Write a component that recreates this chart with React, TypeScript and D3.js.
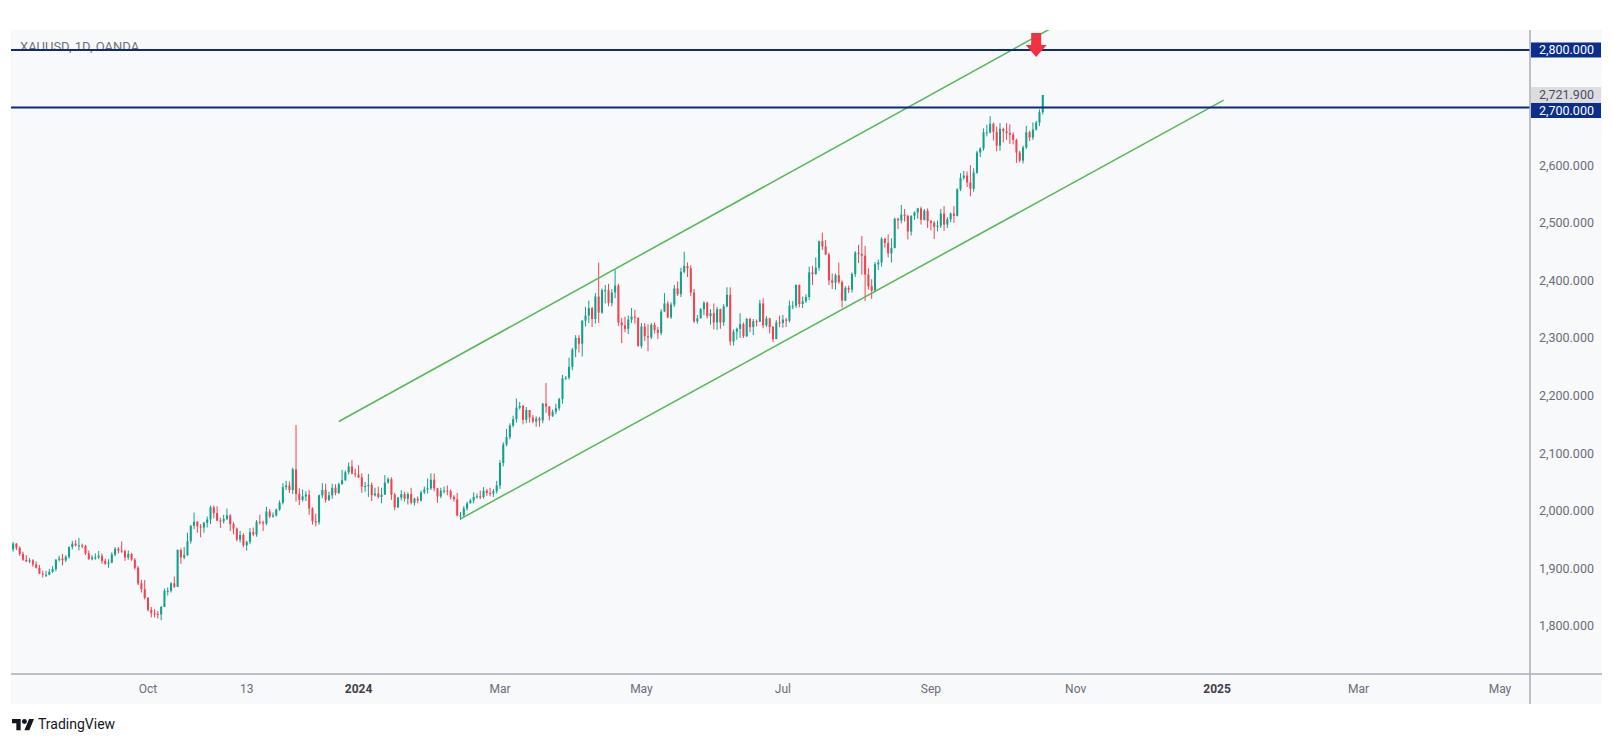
import React from "react";
import * as d3 from "d3";

type Bar = [number, number, number, number]; // open, high, low, close

// ---- XAUUSD daily OHLC (Aug 3 2023 -> Oct 18 2024) ----
const aug2023: Bar[] = [
  [1934, 1938, 1928, 1933], [1933, 1946, 1929, 1943], [1943, 1944, 1932, 1936], [1936, 1938, 1922, 1925],
  [1925, 1929, 1913, 1915], [1915, 1923, 1911, 1912], [1912, 1918, 1909, 1914], [1914, 1916, 1903, 1907],
  [1907, 1912, 1900, 1901], [1901, 1906, 1890, 1891], [1891, 1896, 1884, 1889], [1889, 1896, 1885, 1889],
  [1889, 1899, 1888, 1894], [1894, 1904, 1892, 1899], [1899, 1916, 1895, 1915], [1915, 1922, 1912, 1917],
  [1917, 1925, 1905, 1914], [1914, 1923, 1911, 1920], [1920, 1938, 1917, 1937], [1937, 1948, 1933, 1943],
  [1943, 1949, 1938, 1940],
];
const sep2023: Bar[] = [
  [1940, 1953, 1931, 1940], [1940, 1943, 1935, 1939], [1939, 1941, 1923, 1926], [1926, 1931, 1915, 1916],
  [1916, 1923, 1914, 1919], [1919, 1926, 1915, 1919], [1919, 1930, 1916, 1922], [1922, 1926, 1908, 1913],
  [1913, 1917, 1906, 1908], [1908, 1916, 1901, 1910], [1910, 1928, 1909, 1924], [1924, 1937, 1921, 1934],
  [1934, 1937, 1926, 1931], [1931, 1947, 1927, 1930], [1930, 1932, 1913, 1919], [1919, 1931, 1915, 1925],
  [1925, 1927, 1913, 1915], [1915, 1918, 1898, 1901], [1901, 1904, 1871, 1874], [1874, 1880, 1858, 1864],
  [1864, 1880, 1846, 1849],
];
const oct2023: Bar[] = [
  [1849, 1850, 1825, 1828], [1828, 1833, 1815, 1822], [1822, 1829, 1815, 1821], [1821, 1826, 1813, 1820],
  [1820, 1835, 1810, 1833], [1833, 1865, 1833, 1861], [1861, 1867, 1853, 1861], [1861, 1876, 1858, 1874],
  [1874, 1886, 1866, 1868], [1868, 1933, 1868, 1932], [1932, 1935, 1908, 1919], [1919, 1937, 1916, 1923],
  [1923, 1962, 1922, 1947], [1947, 1975, 1943, 1974], [1974, 1997, 1968, 1981], [1981, 1982, 1962, 1973],
  [1973, 1977, 1954, 1971], [1971, 1981, 1962, 1979], [1979, 1990, 1971, 1985], [1985, 2009, 1977, 2006],
  [2006, 2009, 1987, 1996], [1996, 2008, 1982, 1983],
];
const nov2023: Bar[] = [
  [1983, 1988, 1970, 1982], [1982, 1993, 1978, 1986], [1986, 2004, 1984, 1992], [1992, 1994, 1965, 1977],
  [1977, 1980, 1959, 1969], [1969, 1971, 1947, 1950], [1950, 1965, 1945, 1958], [1958, 1961, 1937, 1940],
  [1940, 1948, 1931, 1946], [1946, 1970, 1942, 1963], [1963, 1971, 1956, 1959], [1959, 1984, 1955, 1981],
  [1981, 1993, 1976, 1980], [1980, 1983, 1965, 1978], [1978, 2007, 1975, 1999], [1999, 2003, 1987, 1990],
  [1990, 1997, 1988, 1992], [1992, 2004, 1990, 2002], [2002, 2018, 2000, 2014], [2014, 2048, 2011, 2041],
  [2041, 2052, 2036, 2044], [2044, 2051, 2031, 2036],
];
const dec2023: Bar[] = [
  [2036, 2075, 2029, 2072], [2072, 2149, 2016, 2029], [2029, 2039, 2010, 2019], [2019, 2037, 2016, 2025],
  [2025, 2034, 2017, 2028], [2028, 2036, 1993, 2004], [2004, 2006, 1976, 1982], [1982, 1995, 1973, 1980],
  [1980, 2028, 1976, 2027], [2027, 2048, 2022, 2036], [2036, 2047, 2014, 2019], [2019, 2033, 2017, 2027],
  [2027, 2047, 2021, 2040], [2040, 2046, 2027, 2031], [2031, 2049, 2029, 2046], [2046, 2071, 2046, 2053],
  [2053, 2070, 2052, 2067], [2067, 2084, 2063, 2077], [2077, 2088, 2063, 2065], [2065, 2073, 2058, 2063],
];
const jan2024: Bar[] = [
  [2063, 2079, 2057, 2058], [2058, 2065, 2031, 2042], [2042, 2050, 2033, 2043], [2043, 2064, 2024, 2045],
  [2045, 2049, 2017, 2027], [2027, 2040, 2025, 2030], [2030, 2042, 2021, 2024], [2024, 2040, 2013, 2028],
  [2028, 2062, 2028, 2049], [2049, 2058, 2047, 2055], [2055, 2058, 2019, 2028], [2028, 2031, 2001, 2006],
  [2006, 2024, 2005, 2023], [2023, 2036, 2018, 2029], [2029, 2033, 2016, 2021], [2021, 2032, 2011, 2029],
  [2029, 2040, 2011, 2014], [2014, 2023, 2009, 2021], [2021, 2025, 2013, 2018], [2018, 2035, 2016, 2032],
  [2032, 2042, 2029, 2037], [2037, 2056, 2030, 2039],
];
const feb2024: Bar[] = [
  [2039, 2065, 2036, 2054], [2054, 2065, 2034, 2039], [2039, 2040, 2014, 2025], [2025, 2040, 2022, 2035],
  [2035, 2042, 2030, 2035], [2035, 2044, 2027, 2034], [2034, 2037, 2020, 2024], [2024, 2027, 2016, 2020],
  [2020, 2031, 1990, 1992], [1992, 1998, 1984, 1992], [1992, 2008, 1988, 2004], [2004, 2016, 2000, 2013],
  [2013, 2021, 2013, 2018], [2018, 2032, 2013, 2024], [2024, 2030, 2021, 2025], [2025, 2035, 2020, 2024],
  [2024, 2041, 2021, 2035], [2035, 2038, 2026, 2031], [2031, 2040, 2025, 2030], [2030, 2038, 2024, 2034],
  [2034, 2052, 2030, 2044],
];
const mar2024: Bar[] = [
  [2044, 2088, 2038, 2083], [2083, 2119, 2077, 2115], [2115, 2142, 2112, 2128], [2128, 2152, 2124, 2148],
  [2148, 2165, 2145, 2159], [2159, 2195, 2153, 2179], [2179, 2189, 2176, 2182], [2182, 2184, 2150, 2158],
  [2158, 2180, 2152, 2175], [2175, 2175, 2153, 2162], [2162, 2166, 2152, 2155], [2155, 2164, 2146, 2160],
  [2160, 2163, 2146, 2157], [2157, 2187, 2152, 2186], [2186, 2222, 2170, 2181], [2181, 2182, 2157, 2165],
  [2165, 2176, 2163, 2172], [2172, 2186, 2168, 2178], [2178, 2196, 2174, 2194], [2194, 2236, 2186, 2230],
  [2230, 2234, 2227, 2231],
];
const apr2024: Bar[] = [
  [2231, 2266, 2228, 2250], [2250, 2283, 2244, 2280], [2280, 2305, 2267, 2300], [2300, 2305, 2275, 2290],
  [2290, 2331, 2268, 2330], [2330, 2354, 2320, 2339], [2339, 2365, 2326, 2352], [2352, 2354, 2319, 2333],
  [2333, 2378, 2325, 2372], [2372, 2431, 2326, 2344], [2344, 2386, 2342, 2383], [2383, 2392, 2360, 2383],
  [2383, 2394, 2355, 2361], [2361, 2385, 2355, 2379], [2379, 2418, 2369, 2391], [2391, 2394, 2321, 2327],
  [2327, 2335, 2291, 2322], [2322, 2337, 2310, 2316], [2316, 2339, 2307, 2332], [2332, 2352, 2326, 2337],
  [2337, 2349, 2325, 2335], [2335, 2336, 2285, 2286],
];
const may2024: Bar[] = [
  [2286, 2326, 2282, 2320], [2320, 2326, 2295, 2303], [2303, 2324, 2277, 2301], [2301, 2326, 2298, 2323],
  [2323, 2327, 2308, 2314], [2314, 2319, 2298, 2309], [2309, 2350, 2305, 2346], [2346, 2378, 2345, 2360],
  [2360, 2364, 2334, 2336], [2336, 2362, 2333, 2358], [2358, 2392, 2354, 2386], [2386, 2398, 2373, 2376],
  [2376, 2422, 2371, 2415], [2415, 2450, 2412, 2425], [2425, 2431, 2406, 2421], [2421, 2426, 2373, 2379],
  [2379, 2385, 2326, 2329], [2329, 2340, 2325, 2334], [2334, 2352, 2334, 2350], [2350, 2364, 2340, 2361],
  [2361, 2363, 2334, 2338], [2338, 2350, 2323, 2343], [2343, 2360, 2315, 2327],
];
const jun2024: Bar[] = [
  [2327, 2354, 2314, 2350], [2350, 2351, 2316, 2327], [2327, 2359, 2321, 2355], [2355, 2388, 2353, 2375],
  [2375, 2388, 2287, 2294], [2294, 2315, 2287, 2311], [2311, 2318, 2297, 2316], [2316, 2343, 2300, 2324],
  [2324, 2327, 2300, 2303], [2303, 2335, 2302, 2333], [2333, 2335, 2310, 2319], [2319, 2333, 2305, 2329],
  [2329, 2332, 2320, 2328], [2328, 2366, 2328, 2360], [2360, 2369, 2317, 2322], [2322, 2338, 2319, 2334],
  [2334, 2335, 2308, 2319], [2319, 2321, 2293, 2298], [2298, 2331, 2298, 2327], [2327, 2339, 2319, 2326],
];
const jul2024: Bar[] = [
  [2326, 2340, 2318, 2332], [2332, 2335, 2319, 2330], [2330, 2365, 2327, 2356], [2356, 2364, 2350, 2356],
  [2356, 2393, 2352, 2392], [2392, 2393, 2353, 2359], [2359, 2372, 2352, 2364], [2364, 2376, 2361, 2371],
  [2371, 2424, 2366, 2414], [2414, 2425, 2392, 2411], [2411, 2440, 2410, 2422], [2422, 2469, 2417, 2468],
  [2468, 2483, 2453, 2459], [2459, 2470, 2444, 2445], [2445, 2448, 2392, 2400], [2400, 2412, 2385, 2396],
  [2396, 2412, 2384, 2409], [2409, 2431, 2394, 2397], [2397, 2400, 2353, 2365], [2365, 2390, 2364, 2387],
  [2387, 2391, 2378, 2384], [2384, 2414, 2379, 2411], [2411, 2451, 2406, 2448],
];
const aug2024: Bar[] = [
  [2448, 2462, 2430, 2446], [2446, 2477, 2410, 2443], [2443, 2460, 2364, 2410], [2410, 2421, 2384, 2390],
  [2390, 2402, 2368, 2382], [2382, 2432, 2381, 2428], [2428, 2436, 2418, 2431], [2431, 2475, 2424, 2472],
  [2472, 2474, 2457, 2465], [2465, 2480, 2440, 2447], [2447, 2473, 2431, 2456], [2456, 2509, 2456, 2507],
  [2507, 2509, 2489, 2504], [2504, 2531, 2499, 2514], [2514, 2524, 2502, 2512], [2512, 2514, 2471, 2485],
  [2485, 2513, 2478, 2512], [2512, 2520, 2505, 2518], [2518, 2526, 2507, 2525], [2525, 2528, 2497, 2505],
  [2505, 2524, 2504, 2521], [2521, 2525, 2491, 2503],
];
const sep2024: Bar[] = [
  [2503, 2505, 2487, 2500], [2500, 2503, 2472, 2493], [2493, 2504, 2485, 2495], [2495, 2524, 2491, 2516],
  [2516, 2529, 2486, 2497], [2497, 2510, 2491, 2506], [2506, 2518, 2501, 2516], [2516, 2529, 2500, 2512],
  [2512, 2560, 2511, 2558], [2558, 2586, 2555, 2578], [2578, 2590, 2575, 2582], [2582, 2589, 2562, 2570],
  [2570, 2600, 2546, 2559], [2559, 2595, 2554, 2587], [2587, 2625, 2585, 2622], [2622, 2631, 2614, 2629],
  [2629, 2664, 2625, 2657], [2657, 2670, 2650, 2657], [2657, 2685, 2655, 2672], [2672, 2674, 2643, 2658],
  [2658, 2667, 2624, 2634],
];
const oct2024: Bar[] = [
  [2634, 2673, 2625, 2663], [2663, 2665, 2640, 2659], [2659, 2673, 2644, 2656], [2656, 2671, 2637, 2653],
  [2653, 2657, 2636, 2644], [2644, 2646, 2604, 2622], [2622, 2625, 2605, 2608], [2608, 2634, 2603, 2631],
  [2631, 2668, 2628, 2657], [2657, 2660, 2642, 2648], [2648, 2674, 2644, 2662], [2662, 2677, 2660, 2674],
  [2674, 2697, 2668, 2692], [2692, 2722, 2688, 2721.9],
];

// month list: [year, month(1-12), first day, bars]
const monthBlocks: [number, number, number, Bar[]][] = [
  [2023, 8, 3, aug2023], [2023, 9, 1, sep2023], [2023, 10, 1, oct2023], [2023, 11, 1, nov2023],
  [2023, 12, 1, dec2023], [2024, 1, 1, jan2024], [2024, 2, 1, feb2024], [2024, 3, 1, mar2024],
  [2024, 4, 1, apr2024], [2024, 5, 1, may2024], [2024, 6, 1, jun2024], [2024, 7, 1, jul2024],
  [2024, 8, 1, aug2024], [2024, 9, 1, sep2024], [2024, 10, 1, oct2024],
];
const holidays = ["2023-12-25", "2024-01-01"];
const futureEnd = "2025-06-30";

// ---- axis content ----
const priceTicks = [1800, 1900, 2000, 2100, 2200, 2300, 2400, 2500, 2600];
const timeTicks: { date: string; label: string; bold?: boolean }[] = [
  { date: "2023-10-02", label: "Oct" },
  { date: "2023-11-13", label: "13" },
  { date: "2024-01-02", label: "2024", bold: true },
  { date: "2024-03-01", label: "Mar" },
  { date: "2024-05-01", label: "May" },
  { date: "2024-07-01", label: "Jul" },
  { date: "2024-09-02", label: "Sep" },
  { date: "2024-11-01", label: "Nov" },
  { date: "2025-01-01", label: "2025", bold: true },
  { date: "2025-03-03", label: "Mar" },
  { date: "2025-05-01", label: "May" },
];
const hLevels = [2800, 2700];
const lastPrice = 2721.9;
const channelUpper: [string, number][] = [["2023-12-21", 2155], ["2024-10-22", 2836]];
const channelLower: [string, number][] = [["2024-02-14", 1986], ["2025-01-03", 2713]];
const arrowAt: [string, number] = ["2024-10-16", 2788];
const title = "XAUUSD, 1D, OANDA";

// ---- helpers ----
const key = (d: Date) => d.toISOString().slice(0, 10);
const isWeekday = (d: Date) => d.getUTCDay() !== 0 && d.getUTCDay() !== 6;

function buildSeries() {
  const candles: { date: string; o: number; h: number; l: number; c: number }[] = [];
  for (const [y, m, from, bars] of monthBlocks) {
    const days: string[] = [];
    const d = new Date(Date.UTC(y, m - 1, from));
    while (d.getUTCMonth() === m - 1) {
      if (isWeekday(d) && !holidays.includes(key(d))) days.push(key(d));
      d.setUTCDate(d.getUTCDate() + 1);
    }
    bars.forEach((b, i) => candles.push({ date: days[i], o: b[0], h: b[1], l: b[2], c: b[3] }));
  }
  const index = new Map<string, number>();
  candles.forEach((c, i) => index.set(c.date, i));
  const last = new Date(candles[candles.length - 1].date + "T00:00:00Z");
  let i = candles.length;
  const d = new Date(last);
  d.setUTCDate(d.getUTCDate() + 1);
  while (key(d) <= futureEnd) {
    if (isWeekday(d)) index.set(key(d), i++);
    d.setUTCDate(d.getUTCDate() + 1);
  }
  return { candles, index };
}

const W = 1614;
const H = 744;
const L = 11, T = 30, PR = 1530, AR = 1602, PB = 674, AB = 704;
const UP = "#12a08a";
const DOWN = "#f0434f";
const FONT = "Roboto, 'Noto Sans', sans-serif";

export default function App() {
  const { candles, index } = buildSeries();
  const ix = (s: string) => index.get(s) as number;

  const x = d3.scaleLinear().domain([ix("2023-10-02"), ix("2025-05-01")]).range([148, 1500]);
  const y = d3.scaleLinear().domain([1800, 2800]).range([626, 50]);
  const step = x(1) - x(0);
  const bw = Math.max(1, step * 0.62);

  const line = d3.line<[string, number]>().x((p) => x(ix(p[0]))).y((p) => y(p[1]));

  const ax = x(ix(arrowAt[0]));
  const ay = y(arrowAt[1]);
  const arrowPath = `M${ax - 5},${ay - 24} L${ax + 5},${ay - 24} L${ax + 5},${ay - 12} L${ax + 10.5},${ay - 12} L${ax},${ay} L${ax - 10.5},${ay - 12} L${ax - 5},${ay - 12} Z`;

  const fmt = d3.format(",.3f");

  // axis label placement (TradingView nudges overlapping labels apart)
  const lastY = y(lastPrice);
  const labelY = (p: number) => {
    const yy = y(p);
    if (Math.abs(yy - lastY) < 15) return yy > lastY ? lastY + 15.5 : lastY - 15.5;
    return yy;
  };

  return (
    <svg width={W} height={H} style={{ position: "absolute", left: 0, top: 0, background: "#ffffff" }} fontFamily={FONT}>
      <defs>
        <clipPath id="plot">
          <rect x={L} y={T} width={PR - L} height={PB - T} />
        </clipPath>
      </defs>
      <rect x={L} y={T} width={AR - L} height={AB - T} fill="#f8f9fb" />

      <text x={20} y={51} fontSize={13} fill="#6f727c">{title}</text>

      <g clipPath="url(#plot)">
        {candles.map((c, i) => {
          const cx = x(i);
          const col = c.c >= c.o ? UP : DOWN;
          const top = y(Math.max(c.o, c.c));
          const bot = y(Math.min(c.o, c.c));
          return (
            <g key={c.date}>
              <line x1={cx} x2={cx} y1={y(c.h)} y2={y(c.l)} stroke={col} strokeWidth={1} />
              <rect x={cx - bw / 2} y={top} width={bw} height={Math.max(1, bot - top)} fill={col} />
            </g>
          );
        })}

        <path d={line(channelUpper) || ""} stroke="#5cb85c" strokeWidth={1.6} fill="none" />
        <path d={line(channelLower) || ""} stroke="#5cb85c" strokeWidth={1.6} fill="none" />

        {hLevels.map((p) => (
          <line key={p} x1={L} x2={PR} y1={y(p)} y2={y(p)} stroke="#0f2a78" strokeWidth={2} />
        ))}

        <path d={arrowPath} fill="#ef3340" />
      </g>

      <line x1={PR} x2={PR} y1={T} y2={AB} stroke="#a9acb4" strokeWidth={1.5} />
      <line x1={L} x2={AR} y1={PB} y2={PB} stroke="#a9acb4" strokeWidth={1.5} />

      {priceTicks.map((p) => (
        <text key={p} x={1539} y={y(p)} dy="0.35em" fontSize={12.5} fill="#6a6d78">{fmt(p)}</text>
      ))}
      <rect x={PR + 1} y={lastY - 8} width={70} height={16} fill="#dcdde0" />
      <text x={1539} y={lastY} dy="0.35em" fontSize={12.5} fill="#4a4d57">{fmt(lastPrice)}</text>
      {hLevels.map((p) => (
        <g key={p}>
          <rect x={PR + 1} y={labelY(p) - 7.5} width={70} height={15} fill="#0c2d8c" />
          <text x={1539} y={labelY(p)} dy="0.35em" fontSize={12.5} fill="#ffffff">{fmt(p)}</text>
        </g>
      ))}

      {timeTicks.map((t) => (
        <text
          key={t.date}
          x={x(ix(t.date))}
          y={689}
          dy="0.35em"
          textAnchor="middle"
          fontSize={12}
          fontWeight={t.bold ? 700 : 400}
          fill={t.bold ? "#3c3f48" : "#6a6d78"}
        >
          {t.label}
        </text>
      ))}

      <g transform="translate(12,716.5) scale(0.62)" fill="#131722">
        <path d="M14 22H7V11H0V4h14v18zM28 22h-8l7.5-18h8L28 22z" />
        <circle cx={20} cy={8} r={4} />
      </g>
      <text x={38} y={729} fontSize={14} fill="#131722">TradingView</text>
    </svg>
  );
}
